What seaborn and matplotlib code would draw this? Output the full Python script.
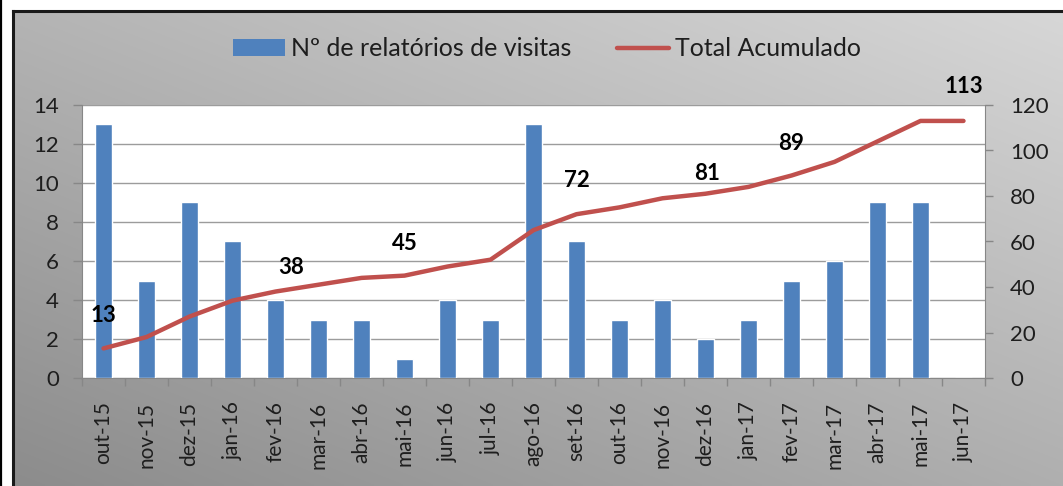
import numpy as np
import pandas as pd
import matplotlib
matplotlib.use("Agg")
import matplotlib.pyplot as plt
from matplotlib.lines import Line2D
from matplotlib.patches import Patch
import seaborn as sns

# ---- data ----
months = ["out-15", "nov-15", "dez-15", "jan-16", "fev-16", "mar-16", "abr-16",
          "mai-16", "jun-16", "jul-16", "ago-16", "set-16", "out-16", "nov-16",
          "dez-16", "jan-17", "fev-17", "mar-17", "abr-17", "mai-17", "jun-17"]
reports = [13, 5, 9, 7, 4, 3, 3, 1, 4, 3, 13, 7, 3, 4, 2, 3, 5, 6, 9, 9, 0]
cumulative = [13, 18, 27, 34, 38, 41, 44, 45, 49, 52, 65, 72, 75, 79, 81, 84,
              89, 95, 104, 113, 113]
labelled_months = ["out-15", "fev-16", "mai-16", "set-16", "dez-16", "fev-17", "jun-17"]
left_ticks = [0, 2, 4, 6, 8, 10, 12, 14]
right_ticks = [0, 20, 40, 60, 80, 100, 120]
bar_name = "Nº de relatórios de visitas"
line_name = "Total Acumulado"

# label placement offsets (pixels), style only
label_offsets = [(0, 33), (16, 24), (0, 32), (0, 34), (2, 20), (0, 32), (0, 34)]

BLUE = "#4F81BD"
RED = "#C0504D"
GRID = "#9C9C9C"
TXT = "#1E1E1E"

sns.set_style("white")
plt.rcParams["font.family"] = ["Lato", "DejaVu Sans"]

W, H, DPI = 1063, 486, 100
fig = plt.figure(figsize=(W / DPI, H / DPI), dpi=DPI, facecolor="white")

# ---- gradient chart background with frame ----
bx0, by_top = 13, 11
bg = fig.add_axes([bx0 / W, 0, 1 - bx0 / W, (H - by_top) / H], zorder=-10)
gx = np.linspace(0, 1, 300)
gy = np.linspace(1, 0, 150)  # row 0 = top
XX, YY = np.meshgrid(gx, gy)
val = (140 + 35 * XX + 40 * YY) / 255.0
img = np.dstack([val, val, val])
bg.imshow(img, extent=[0, 1, 0, 1], aspect="auto", interpolation="bilinear")
bg.set_xlim(0, 1)
bg.set_ylim(0, 1)
bg.set_xticks([])
bg.set_yticks([])
for s in ["right", "bottom"]:
    bg.spines[s].set_visible(False)
for s in ["left", "top"]:
    bg.spines[s].set_color("#1A1A1A")
    bg.spines[s].set_linewidth(2.2)
fig.add_artist(Line2D([1.2 / W, 1.2 / W], [0, 1], color="black", lw=1.6,
                      transform=fig.transFigure))

# ---- main axes ----
px0, px1, py0, py1 = 82, 985, 105, 378
ax = fig.add_axes([px0 / W, (H - py1) / H, (px1 - px0) / W, (py1 - py0) / H])
ax.set_facecolor("white")

df = pd.DataFrame({"mes": months, "relatorios": reports, "acumulado": cumulative})
df["pos"] = np.arange(len(df))

sns.barplot(data=df, x="mes", y="relatorios", color=BLUE, width=0.4,
            saturation=1, ax=ax, zorder=3)
ax.set_xlim(-0.5, len(months) - 0.5)
ax.set_ylim(0, 14)
ax.set_yticks(left_ticks)
ax.yaxis.grid(True, color=GRID, lw=1.0)
ax.set_axisbelow(True)
ax.set_xlabel("")
ax.set_ylabel("")

ax2 = ax.twinx()
sns.lineplot(data=df, x="pos", y="acumulado", color=RED, lw=3.2, ax=ax2,
             zorder=4, solid_capstyle="round", solid_joinstyle="round")
ax2.set_ylim(0, 120)
ax2.set_yticks(right_ticks)
ax2.set_xlim(-0.5, len(months) - 0.5)
ax2.set_xlabel("")
ax2.set_ylabel("")
ax2.grid(False)

# data labels
for m, (dx, dy) in zip(labelled_months, label_offsets):
    i = months.index(m)
    ax2.annotate(str(cumulative[i]), (i, cumulative[i]), xytext=(dx, dy),
                 textcoords="offset pixels", ha="center", va="center",
                 fontsize=16, fontweight="bold", color="black", zorder=6)

# ---- axes styling ----
for a in (ax, ax2):
    for s in a.spines.values():
        s.set_visible(False)
ax.spines["left"].set_visible(True)
ax.spines["left"].set_color("#878787")
ax.spines["bottom"].set_visible(True)
ax.spines["bottom"].set_color("#878787")
ax2.spines["right"].set_visible(True)
ax2.spines["right"].set_color("#878787")

ax.set_xticks(np.arange(len(months)))
ax.set_xticklabels(months, rotation=90, fontsize=15, color=TXT)
ax.set_xticks(np.arange(len(months) + 1) - 0.5, minor=True)
ax.tick_params(axis="x", which="major", length=0, pad=17)
ax.tick_params(axis="x", which="minor", length=6, width=1, color="#878787",
               direction="out", bottom=True)
ax.tick_params(axis="y", which="major", length=6.5, width=1, color="#878787",
               direction="out", left=True, labelsize=16, labelcolor=TXT, pad=10)
ax2.tick_params(axis="y", which="major", length=6, width=1, color="#878787",
                direction="out", right=True, labelsize=16, labelcolor=TXT, pad=12)
ax2.tick_params(axis="x", which="both", bottom=False, labelbottom=False)

# ---- legend ----
handles = [Patch(facecolor=BLUE, edgecolor="none", label=bar_name),
           Line2D([0], [0], color=RED, lw=3.2, label=line_name)]
fig.legend(handles=handles, loc="center", bbox_to_anchor=(547 / W, 1 - 49 / H),
           ncol=2, frameon=False, fontsize=18, handlelength=2.1,
           handleheight=0.65, handletextpad=0.25, columnspacing=1.8,
           labelcolor=TXT)

fig.savefig("out.png", dpi=DPI, facecolor="white")
